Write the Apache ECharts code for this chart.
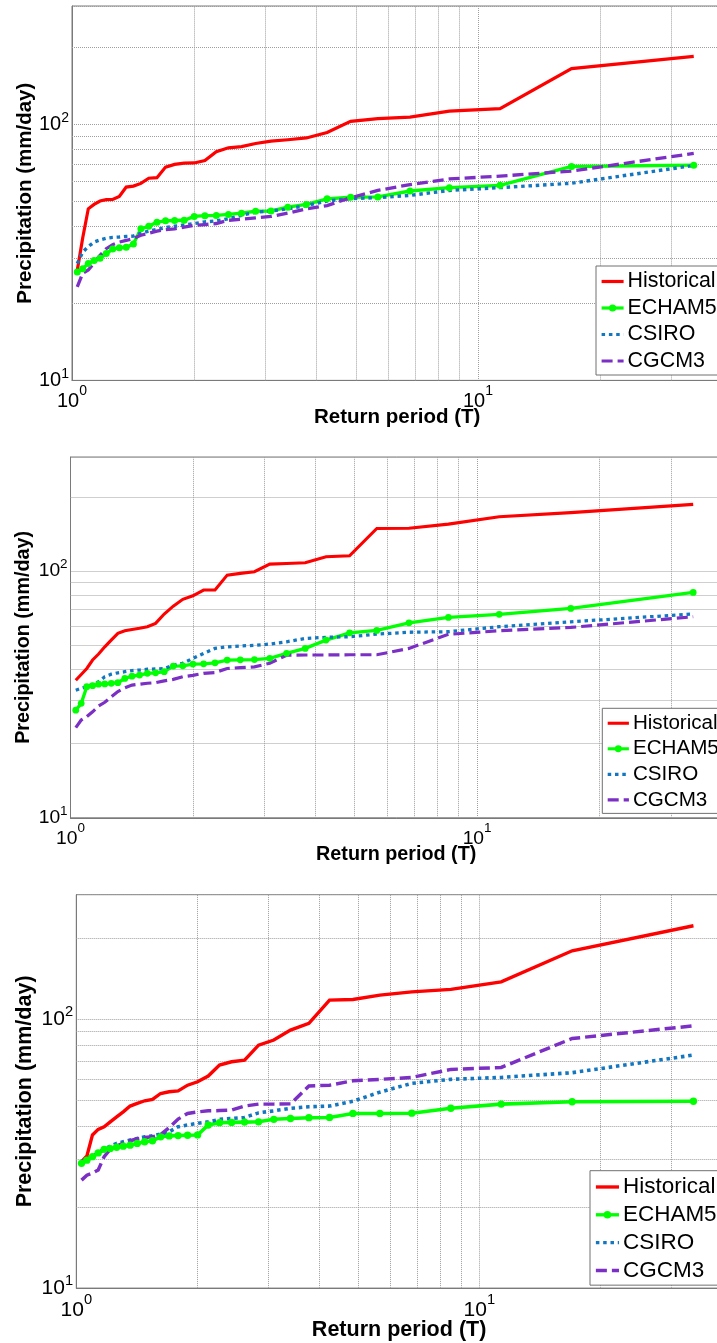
<!DOCTYPE html>
<html>
<head>
<meta charset="utf-8">
<script src="https://cdn.jsdelivr.net/npm/echarts@6/dist/echarts.min.js"></script>
<style>
  html, body { margin: 0; padding: 0; background: #ffffff; overflow: hidden; }
  /* the plot boxes run past the right edge of the page, so the canvas is a bit wider than the window */
  #chart { width: 732px; height: 1343px; }
</style>
</head>
<body>
<div id="chart"></div>
<script>
// Return period T = (n + 1) / rank for a 33-year record
const returnPeriod = [1.0303, 1.0625, 1.0968, 1.1333, 1.1724, 1.2143, 1.2593, 1.3077, 1.36, 1.4167,
  1.4783, 1.5455, 1.619, 1.7, 1.7895, 1.8889, 2, 2.125, 2.2667, 2.4286,
  2.6154, 2.8333, 3.0909, 3.4, 3.7778, 4.25, 4.8571, 5.6667, 6.8, 8.5,
  11.333, 17, 34];

const seriesNames = ['Historical', 'ECHAM5', 'CSIRO', 'CGCM3'];

// Top panel (mm/day)
const historicalA = [26.9, 36.0, 46.8, 48.7, 50.2, 50.8, 50.9, 52.3, 56.9, 57.4, 58.8, 61.6, 61.9, 68.1, 69.8, 70.6, 70.7, 72.3, 78.2, 81.0, 81.9, 84.2, 86.0, 87.1, 88.5, 93.0, 102.7, 105.3, 106.8, 112.7, 115.2, 165.1, 184.4];
const echam5A = [26.5, 27.3, 28.6, 29.4, 30.0, 31.3, 32.6, 33.0, 33.1, 34.1, 39.1, 40.0, 41.5, 42.0, 42.1, 42.2, 43.7, 44.0, 44.1, 44.5, 45.0, 45.8, 45.9, 47.5, 48.7, 51.2, 51.9, 52.1, 54.9, 56.6, 57.8, 68.5, 69.3];
const csiroA = [28.6, 31.7, 33.3, 34.7, 35.4, 35.9, 36.2, 36.3, 36.5, 36.6, 37.6, 38.3, 38.9, 39.5, 40.0, 40.5, 41.0, 41.6, 42.0, 42.8, 44.1, 45.4, 45.9, 46.8, 48.2, 50.2, 51.3, 51.7, 52.8, 55.2, 56.6, 58.9, 69.1];
const cgcm3A = [23.2, 26.2, 27.0, 28.7, 30.8, 32.7, 33.9, 34.7, 35.2, 35.8, 36.9, 37.6, 38.3, 38.8, 39.1, 39.7, 40.3, 40.6, 41.0, 42.2, 42.6, 43.1, 43.7, 45.0, 46.8, 48.2, 51.7, 55.2, 58.2, 61.2, 62.8, 65.7, 77.0];

// Middle panel (mm/day)
const historicalB = [36.1, 38.1, 40.3, 43.6, 46.1, 49.3, 52.5, 55.9, 57.3, 58.0, 58.6, 59.5, 61.4, 67.0, 72.1, 76.8, 79.4, 83.8, 83.9, 96.3, 97.9, 99.4, 106.7, 107.4, 108.1, 114.3, 115.3, 148.9, 149.2, 155.0, 166.0, 172.5, 186.4];
const echam5B = [27.3, 29.1, 34.0, 34.3, 34.8, 34.9, 35.1, 35.3, 36.7, 37.5, 37.9, 38.5, 38.7, 39.1, 41.2, 41.3, 42.0, 42.1, 42.5, 43.6, 43.7, 43.8, 44.3, 46.4, 48.6, 52.5, 56.2, 57.5, 61.7, 64.9, 66.8, 70.6, 81.9];
const csiroB = [32.9, 33.5, 34.0, 34.8, 35.6, 37.3, 38.2, 38.7, 39.1, 39.5, 39.7, 40.0, 40.1, 40.3, 41.6, 42.3, 44.3, 46.4, 48.6, 49.3, 49.7, 50.0, 50.6, 51.7, 53.3, 53.9, 54.2, 55.5, 56.5, 56.8, 59.5, 62.3, 67.0];
const cgcm3B = [23.2, 24.9, 25.7, 26.9, 28.4, 29.4, 30.9, 32.5, 33.6, 34.5, 34.8, 35.1, 35.3, 35.9, 36.4, 37.3, 37.8, 38.5, 38.8, 40.3, 40.6, 40.9, 42.3, 45.6, 45.7, 45.7, 45.8, 45.8, 48.6, 55.4, 57.3, 59.1, 65.3];

// Bottom panel (mm/day)
const historicalC = [29.5, 31.0, 37.1, 38.9, 39.8, 41.5, 43.3, 45.2, 47.5, 48.6, 49.7, 50.3, 52.9, 53.7, 54.1, 56.8, 58.5, 61.4, 67.5, 69.4, 70.4, 80.0, 83.6, 91.0, 96.4, 117.7, 118.3, 122.7, 126.3, 129.0, 137.6, 179.5, 222.3];
const echam5C = [29.1, 29.9, 30.8, 31.8, 32.8, 33.0, 33.4, 33.7, 34.0, 34.5, 35.0, 35.3, 36.5, 36.8, 36.9, 37.0, 37.1, 40.4, 41.2, 41.3, 41.4, 41.5, 42.4, 42.7, 43.0, 43.1, 44.6, 44.6, 44.7, 46.6, 48.3, 49.3, 49.5];
const csiroC = [29.5, 30.1, 30.9, 31.8, 32.8, 33.7, 34.5, 35.0, 35.5, 36.0, 36.5, 36.8, 37.4, 38.1, 39.8, 40.4, 41.0, 41.5, 42.4, 42.7, 43.1, 44.8, 45.6, 46.6, 47.2, 47.5, 49.5, 53.5, 57.7, 59.7, 60.7, 63.2, 73.5];
const cgcm3C = [25.2, 26.3, 26.8, 27.5, 30.8, 32.8, 33.7, 34.6, 35.3, 35.9, 36.3, 36.5, 37.2, 39.5, 42.5, 44.6, 45.2, 45.6, 45.7, 45.9, 47.5, 48.3, 48.3, 48.4, 56.4, 56.8, 59.0, 59.7, 60.7, 65.0, 66.1, 84.7, 94.4];

// Axis ranges and minor grid positions
const xRange = [1, 40];
const yRange = [10, 290];
const xMinorTicks = [2, 3, 4, 5, 6, 7, 8, 9, 20, 30];
const yMinorTicks = [20, 30, 40, 50, 60, 70, 80, 90, 200];

const xTitle = 'Return period (T)';
const yTitle = 'Precipitation (mm/day)';

// Panel geometry (pixels) and a per-panel text scale
const panels = [
  { values: [historicalA, echam5A, csiroA, cgcm3A], left: 72, top: 6, width: 650.4, height: 374.4, s: 1.0, legendLeft: 596, legendTop: 266, xGap: 26.5, yGap: 37 },
  { values: [historicalB, echam5B, csiroB, cgcm3B], left: 70.5, top: 457, width: 651.4, height: 360.8, s: 0.964, legendLeft: 602.3, legendTop: 708.3, xGap: 27.5, yGap: 37 },
  { values: [historicalC, echam5C, csiroC, cgcm3C], left: 76.3, top: 894.7, width: 645.6, height: 393.4, s: 1.05, legendLeft: 590, legendTop: 1170.7, xGap: 31, yGap: 40.3 }
];

const FONT = "'Liberation Sans', Arial, Helvetica, sans-serif";
const AXIS_COLOR = '#7a7a7a';
const GRID_COLOR = '#9e9e9e';

const styles = [
  { color: '#ff0000', type: 'solid', symbol: 'none', width: 3.2 },
  { color: '#00ff00', type: 'solid', symbol: 'circle', width: 3.4 },
  { color: '#1277c0', type: [3.5, 3.8], symbol: 'none', width: 3.4 },
  { color: '#7b2fc4', type: [11, 5], symbol: 'none', width: 3.3 }
];

function powerLabel(v) {
  const e = Math.log10(v);
  const r = Math.round(e);
  if (Math.abs(e - r) > 1e-6) return '';
  return '{b|10}{s|' + r + '}';
}

const grid = [], xAxis = [], yAxis = [], series = [], legend = [];

panels.forEach((p, i) => {
  const s = p.s;
  grid.push({
    left: p.left, top: p.top, width: p.width, height: p.height,
    show: true, borderColor: AXIS_COLOR, borderWidth: 1, backgroundColor: '#fff',
    containLabel: false
  });

  xAxis.push({
    type: 'log', logBase: 10, gridIndex: i, min: xRange[0], max: xRange[1],
    name: xTitle, nameLocation: 'middle', nameGap: p.xGap, nameMoveOverlap: false,
    nameTextStyle: { fontFamily: FONT, fontWeight: 'bold', fontSize: 20.5 * s, color: '#000', lineHeight: 20 * s },
    axisLine: { show: true, lineStyle: { color: AXIS_COLOR, width: 1 } },
    axisTick: { show: false },
    splitLine: { show: true, lineStyle: { color: GRID_COLOR, type: 'dotted', width: 1 } },
    axisLabel: {
      margin: 4 * s, formatter: powerLabel, color: '#000',
      rich: {
        b: { fontFamily: FONT, fontSize: 20 * s, lineHeight: 35 * s, color: '#000' },
        s: { fontFamily: FONT, fontSize: 14 * s, lineHeight: 14 * s, verticalAlign: 'top', color: '#000' }
      }
    }
  });

  yAxis.push({
    type: 'log', logBase: 10, gridIndex: i, min: yRange[0], max: yRange[1],
    name: yTitle, nameLocation: 'middle', nameGap: p.yGap, nameMoveOverlap: false,
    nameTextStyle: { fontFamily: FONT, fontWeight: 'bold', fontSize: 20.5 * s, color: '#000', lineHeight: 20 * s },
    axisLine: { show: true, lineStyle: { color: AXIS_COLOR, width: 1 } },
    axisTick: { show: false },
    splitLine: { show: true, lineStyle: { color: GRID_COLOR, type: 'dotted', width: 1 } },
    axisLabel: {
      margin: 3 * s, formatter: powerLabel, color: '#000',
      rich: {
        b: { fontFamily: FONT, fontSize: 20 * s, lineHeight: 27 * s, color: '#000' },
        s: { fontFamily: FONT, fontSize: 14 * s, lineHeight: 14 * s, verticalAlign: 'top', color: '#000' }
      }
    }
  });

  p.values.forEach((vals, k) => {
    const st = styles[k];
    const item = {
      name: seriesNames[k], type: 'line', xAxisIndex: i, yAxisIndex: i,
      data: returnPeriod.map((t, j) => [t, vals[j]]),
      symbol: st.symbol, symbolSize: 7 * s, showSymbol: st.symbol !== 'none', showAllSymbol: true,
      lineStyle: { color: st.color, width: st.width * s, type: st.type, cap: 'butt', join: 'miter' },
      itemStyle: { color: st.color, borderWidth: 0 },
      emphasis: { disabled: true },
      silent: true, animation: false
    };
    if (k === 0) {
      // Minor decade grid lines
      item.markLine = {
        z: 1, silent: true, symbol: ['none', 'none'], animation: false,
        label: { show: false },
        emphasis: { disabled: true },
        lineStyle: { color: GRID_COLOR, type: 'dotted', width: 1 },
        data: xMinorTicks.map(v => ({ xAxis: v })).concat(yMinorTicks.map(v => ({ yAxis: v })))
      };
    }
    series.push(item);
  });

  legend.push({
    // only ECHAM5 carries a marker in its key
    data: seriesNames.map((n, k) => styles[k].symbol === 'none'
      ? { name: n, itemStyle: { opacity: 0, color: 'rgba(0,0,0,0)', borderWidth: 0 } }
      : { name: n }),
    orient: 'vertical', left: p.legendLeft, top: p.legendTop,
    selectedMode: false, itemWidth: 22 * s, itemHeight: 9 * s, itemGap: 4.5 * s,
    padding: [4.5 * s, 12, 3 * s, 4 * s],
    lineStyle: { width: 3.2 * s },
    backgroundColor: '#ffffff', borderColor: '#707070', borderWidth: 1, borderRadius: 0,
    textStyle: { fontFamily: FONT, fontSize: 21.4 * s, color: '#000', lineHeight: 22 * s, padding: [0, 0, 0, -1] }
  });
});

const chart = echarts.init(document.getElementById('chart'), null, { renderer: 'canvas' });
chart.setOption({
  backgroundColor: '#ffffff',
  animation: false,
  grid, xAxis, yAxis, series, legend
});
</script>
</body>
</html>
